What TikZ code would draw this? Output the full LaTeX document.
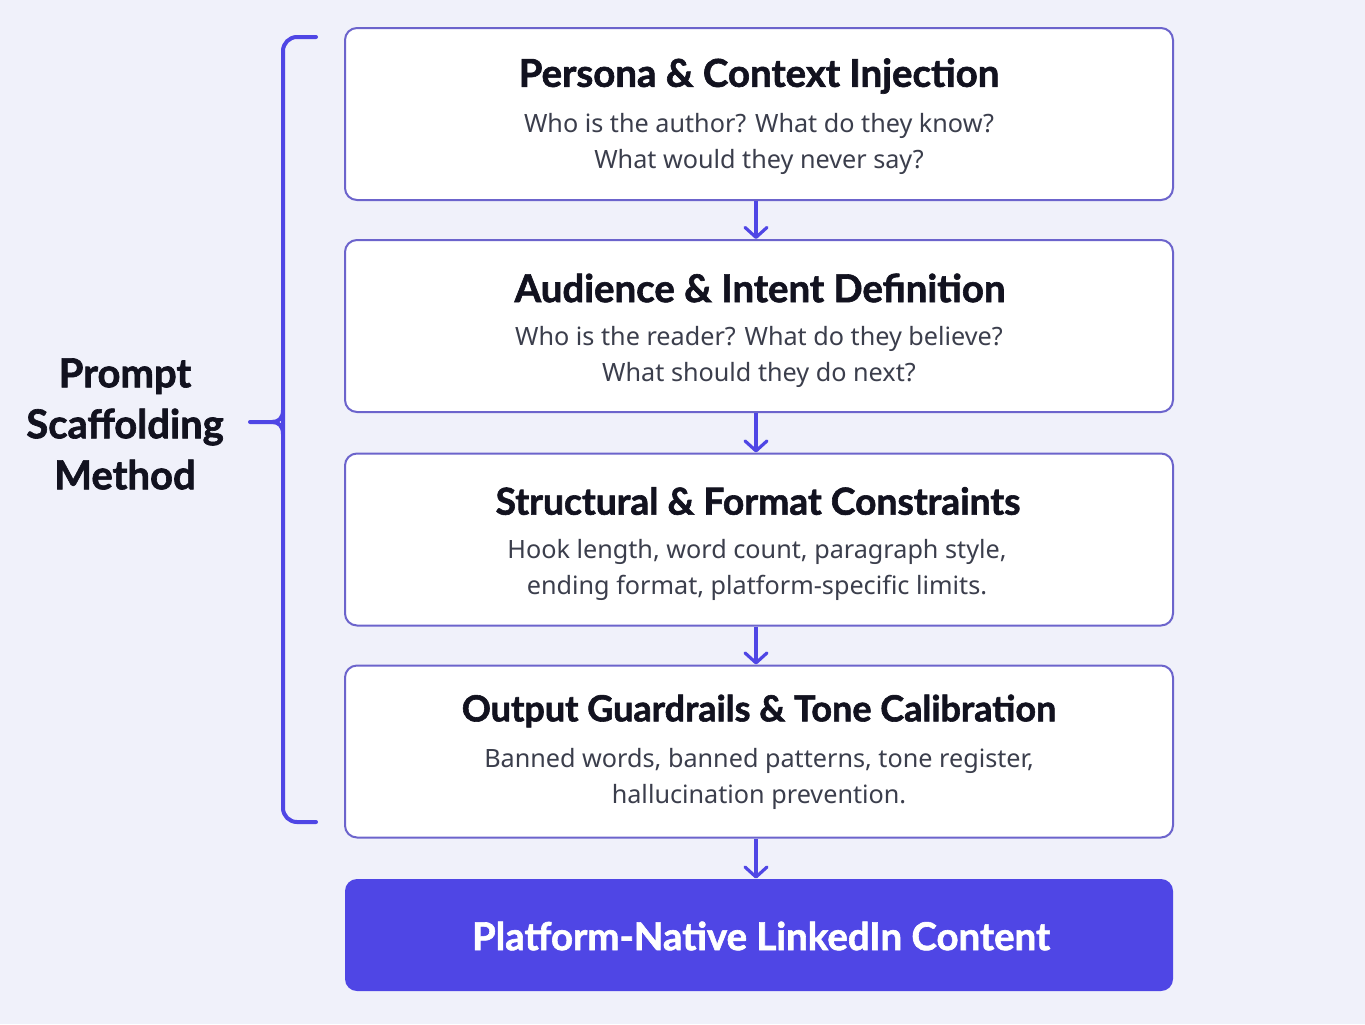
\documentclass[tikz,border=0pt]{standalone}
\usepackage{fontspec}
\setmainfont{Noto Sans}
\newfontfamily\titlefont{Lato}[BoldFeatures={FakeBold=1.6}]
\usetikzlibrary{arrows.meta}
\definecolor{bg}{HTML}{F0F1FA}
\definecolor{boxline}{HTML}{6C64CC}
\definecolor{indigo}{HTML}{4F46E5}
\definecolor{titlecol}{HTML}{12121F}
\definecolor{bodycol}{HTML}{3B3E4C}
\tikzset{
  stepbox/.style={draw=boxline, line width=1pt, fill=white, rounded corners=6pt,
    minimum width=414pt, minimum height=86pt, inner sep=0pt},
  finalbox/.style={fill=indigo, rounded corners=6pt,
    minimum width=414pt, minimum height=56pt, inner sep=0pt},
  titletext/.style={font=\titlefont\bfseries\fontsize{19.2}{23}\selectfont, text=titlecol, inner sep=0pt},
  bodytext/.style={font=\fontsize{12.6}{18}\selectfont, text=bodycol, align=center, inner sep=0pt},
  labeltext/.style={font=\titlefont\bfseries\fontsize{20}{25.5}\selectfont, text=titlecol, align=center, inner sep=0pt},
  flow/.style={draw=indigo, line width=1.6pt, -{Straight Barb[length=5pt,width=11pt,line cap=round,line join=round]}},
  brace/.style={draw=indigo, line width=2pt, line cap=round, line join=round}
}
\begin{document}
\begin{tikzpicture}[x=0.5pt,y=-0.5pt]
\fill[bg] (0,0) rectangle (1365,1024);
\useasboundingbox (0,0) rectangle (1365,1024);

\node[stepbox] (b1) at (759,114) {};
\node[stepbox] (b2) at (759,326) {};
\node[stepbox] (b3) at (759,539.5) {};
\node[stepbox] (b4) at (759,751.5) {};
\node[finalbox] (b5) at (759,935) {};

\node[titletext] (t1) at (759,76) {Persona \& Context Injection};
\node[bodytext] (d1) at (759,144) {Who is the author? What do they know?\\What would they never say?};

\node[titletext] (t2) at (760,288) {Audience \& Intent Definition};
\node[bodytext] (d2) at (759,357) {Who is the reader? What do they believe?\\What should they do next?};

\node[titletext, font=\titlefont\bfseries\fontsize{18.6}{23}\selectfont] (t3) at (758,501) {Structural \& Format Constraints};
\node[bodytext] (d3) at (757,570) {Hook length, word count, paragraph style,\\ending format, platform-specific limits.};

\node[titletext, font=\titlefont\bfseries\fontsize{18}{23}\selectfont] (t4) at (759,711) {Output Guardrails \& Tone Calibration};
\node[bodytext] (d4) at (759,779) {Banned words, banned patterns, tone register,\\hallucination prevention.};

\node[titletext, text=white] (t5) at (761,936) {Platform-Native LinkedIn Content};

\draw[flow] (b1.south -| 756,0) -- (b2.north -| 756,0);
\draw[flow] (b2.south -| 756,0) -- (b3.north -| 756,0);
\draw[flow] (b3.south -| 756,0) -- (b4.north -| 756,0);
\draw[flow] (b4.south -| 756,0) -- (b5.north -| 756,0);

\coordinate (btop) at (316,37);
\coordinate (bbot) at (316,822);
\coordinate (btip) at (250,422);
\draw[brace, rounded corners=7pt] (btop) -- (283,37) -- (283,822) -- (bbot);
\draw[brace] (btip) -- (272,422) .. controls (279,422) and (283,418) .. (283,410);
\draw[brace] (272,422) .. controls (279,422) and (283,426) .. (283,434);

\node[labeltext] (lab) at (125,424) {Prompt\\Scaffolding\\Method};
\end{tikzpicture}
\end{document}
